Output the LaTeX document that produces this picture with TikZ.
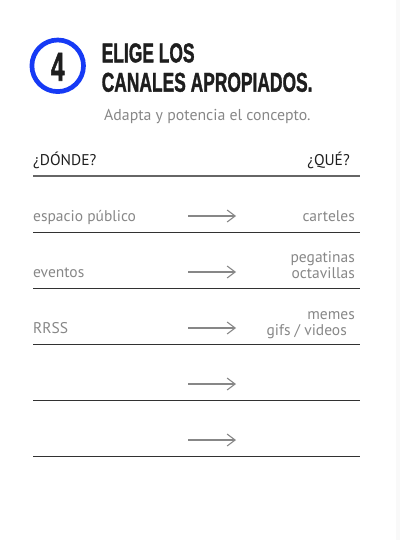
\documentclass[tikz,border=0pt]{standalone}
\usepackage{fontspec}
\usepackage{graphicx}
\usepackage{xcolor}
\usetikzlibrary{arrows.meta}
\setmainfont{PT Sans}
\newfontfamily\titlefont{Liberation Sans}[BoldFeatures={FakeBold=1.6}]
\definecolor{azul}{RGB}{22,58,245}
\definecolor{tinta}{RGB}{30,30,30}
\definecolor{gris}{RGB}{135,135,135}
\definecolor{raya}{RGB}{50,50,50}

\begin{document}
\begin{tikzpicture}[x=1pt,y=-1pt,
  texto/.style={inner sep=0pt,text=gris,font=\fontsize{15.5}{17}\selectfont},
  linea/.style={draw=raya,line width=1.6pt},
  flecha/.style={draw=gris,line width=1.1pt,-{Straight Barb[length=8pt,width=12pt]}}]
\useasboundingbox (0,0) rectangle (400,540);
\fill[gray!5] (396,0) rectangle (400,540);

% numero y titulo
\node[circle,draw=azul,line width=4.7pt,minimum size=51.6pt,inner sep=0pt] (num) at (57.7,65.8) {};
\node[inner sep=0pt,anchor=base,text=tinta] (cuatro) at (57.7,80.7)
  {\scalebox{0.6}[1]{\titlefont\bfseries\fontsize{40.5}{40}\selectfont 4}};
\node[inner sep=0pt,anchor=base west,text=tinta] (tit1) at (101.5,62.3)
  {\scalebox{0.64}[1]{\titlefont\bfseries\fontsize{27.2}{28}\selectfont ELIGE LOS}};
\node[inner sep=0pt,anchor=base west,text=tinta] (tit2) at (101.5,91.7)
  {\scalebox{0.64}[1]{\titlefont\bfseries\fontsize{27.2}{28}\selectfont CANALES APROPIADOS.}};
\node[texto,anchor=base west,font=\fontsize{15.8}{18}\selectfont] (sub) at (104,120.7) {Adapta y potencia el concepto.};

% cabecera
\node[texto,text=tinta,anchor=base west] (donde) at (33,165.7) {¿DÓNDE?};
\node[texto,text=tinta,anchor=base east] (que) at (350,165.7) {¿QUÉ?};
\draw[linea,draw=gray!80!black,line width=1.8pt] (33,175.7) -- (360,175.7);

% filas
\foreach \i/\y in {1/216,2/272,3/328,4/384,5/440}{
  \coordinate (a\i) at (188,\y);
  \coordinate (b\i) at (236,\y);
  \draw[flecha] (a\i) -- (b\i);
  \draw[linea] (33,\y+16.5) -- (360,\y+16.5);
}

\node[texto,anchor=base west] (esp) at (33,221) {espacio público};
\node[texto,anchor=base east] (cart) at (355,221) {carteles};
\node[texto,anchor=base west] (ev) at (33,277) {eventos};
\node[texto,anchor=base east] (peg) at (355,262.3) {pegatinas};
\node[texto,anchor=base east] (oct) at (355,278.3) {octavillas};
\node[texto,anchor=base west] (rrss) at (33,333.3) {RRSS};
\node[texto,anchor=base east] (mem) at (355,319) {memes};
\node[texto,anchor=base east] (gif) at (347,335.5) {gifs / videos};
\end{tikzpicture}
\end{document}
